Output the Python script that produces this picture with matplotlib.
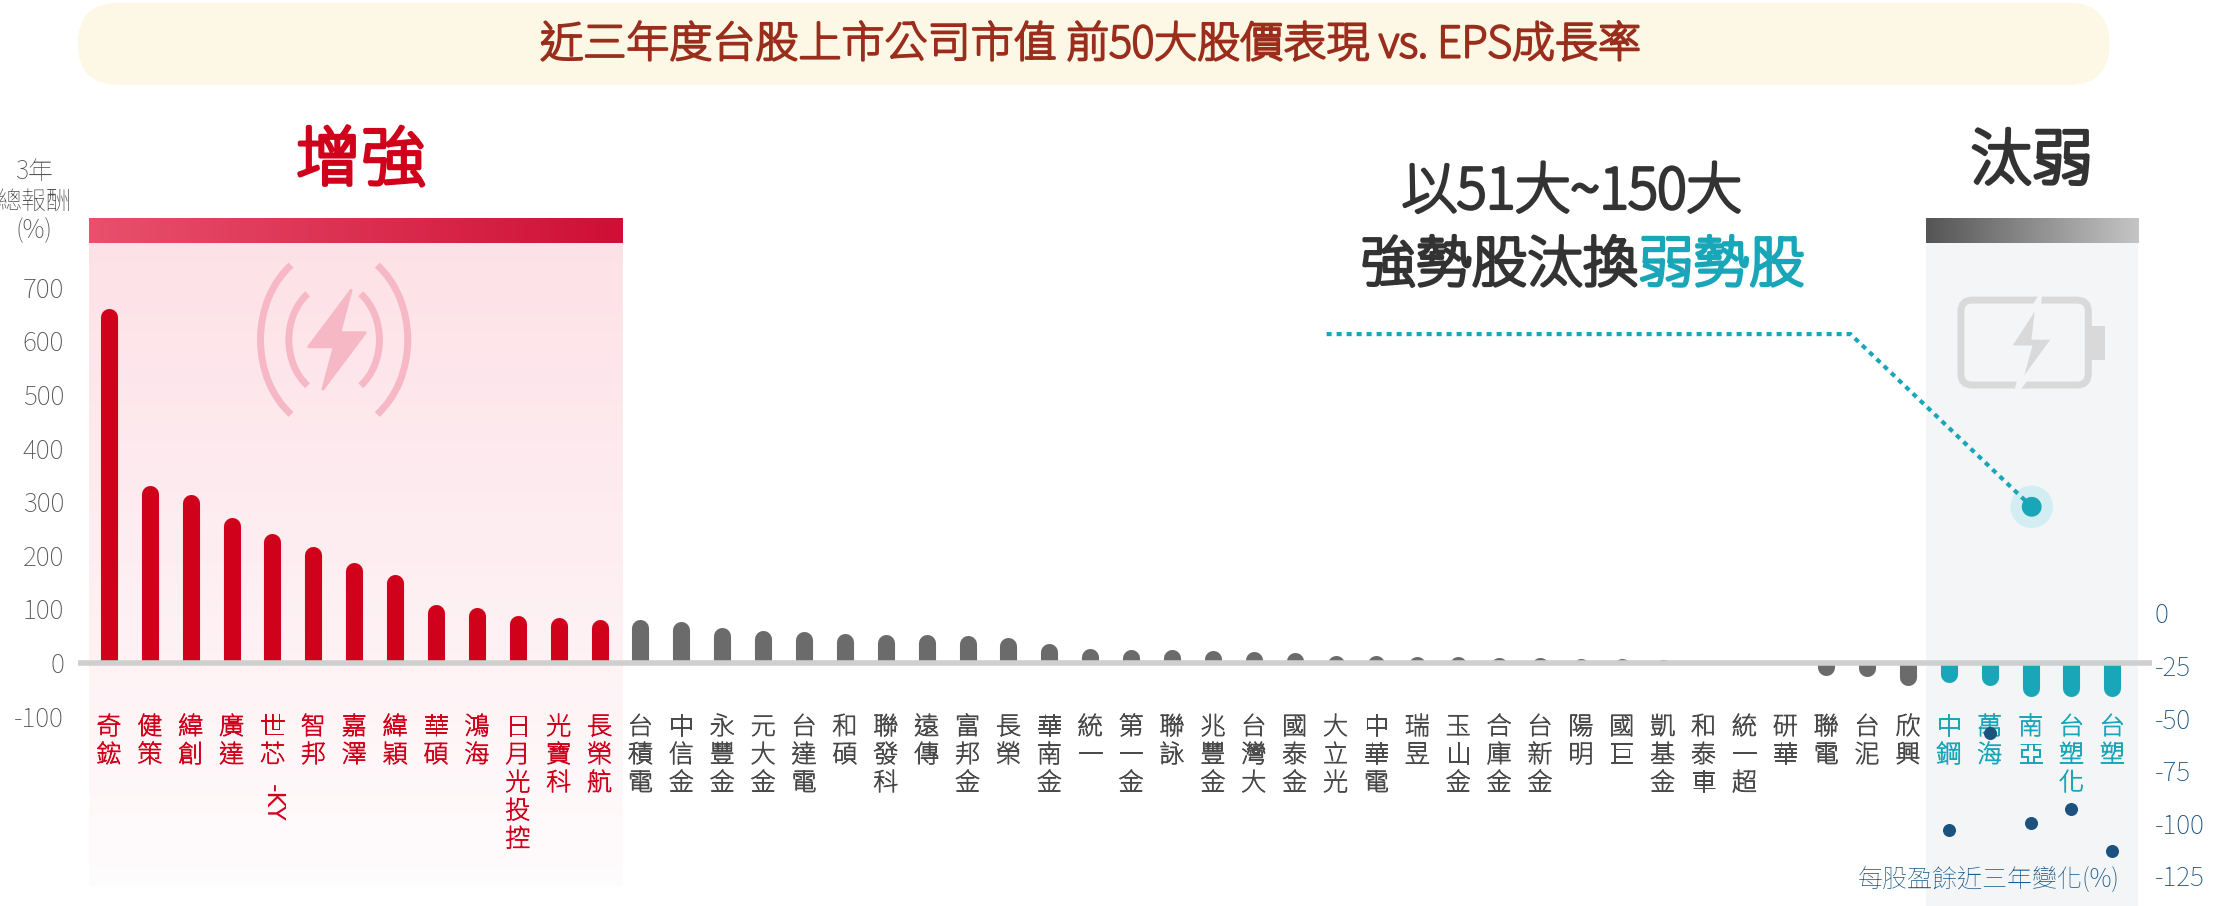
import numpy as np
import matplotlib.pyplot as plt
import matplotlib.font_manager as fm
import matplotlib.patheffects as pe
from matplotlib.colors import LinearSegmentedColormap
from matplotlib.patches import FancyBboxPatch, Rectangle, Arc, Polygon, Circle

# 找可用的中文字型
have = {f.name for f in fm.fontManager.ttflist}
cjk = [n for n in ['Noto Sans CJK TC', 'Noto Sans TC', 'Noto Sans CJK JP', 'Noto Sans CJK SC',
                   'Noto Sans SC', 'Noto Sans JP', 'Noto Serif TC'] if n in have]
plt.rcParams['font.family'] = 'sans-serif'
plt.rcParams['font.sans-serif'] = cjk + ['DejaVu Sans']
plt.rcParams['axes.unicode_minus'] = False

# 資料
names = ['奇鋐', '健策', '緯創', '廣達', '世芯-KY', '智邦', '嘉澤', '緯穎', '華碩', '鴻海',
         '日月光投控', '光寶科', '長榮航', '台積電', '中信金', '永豐金', '元大金', '台達電', '和碩', '聯發科',
         '遠傳', '富邦金', '長榮', '華南金', '統一', '第一金', '聯詠', '兆豐金', '台灣大', '國泰金',
         '大立光', '中華電', '瑞昱', '玉山金', '合庫金', '台新金', '陽明', '國巨', '凱基金', '和泰車',
         '統一超', '研華', '聯電', '台泥', '欣興', '中鋼', '萬海', '南亞', '台塑化', '台塑']
returns = [660, 331, 314, 271, 240, 217, 186, 165, 108, 103,
           87, 84, 81, 81, 76, 66, 60, 58, 54, 53,
           52, 50, 47, 36, 27, 25, 24, 22, 20, 19,
           14, 13, 12, 11, 9, 9, 8, 8, 5, 3,
           1.5, 1, -24, -26, -42, -37, -42, -63, -63, -63]
weak_names = ['中鋼', '萬海', '南亞', '台塑化', '台塑']
weak_eps = [-103, -57, -100, -93, -113]
left_ticks = [-100, 0, 100, 200, 300, 400, 500, 600, 700]
right_ticks = [0, -25, -50, -75, -100, -125]

RED, GRAY, TEAL, NAVY = '#d0021b', '#6b6b6b', '#19a6b8', '#1b527f'
W, H = 1568, 640  # 版面座標 (像素)


def bold(c, w=1.6):
    return [pe.withStroke(linewidth=w, foreground=c)]


fig = plt.figure(figsize=(22.2, 9.06), dpi=100)
bg = fig.add_axes([0, 0, 1, 1], zorder=0)
bg.set_xlim(0, W); bg.set_ylim(H, 0); bg.axis('off')

# 標題
bg.add_patch(FancyBboxPatch((55, 2), 1435, 58, boxstyle='round,pad=0,rounding_size=29',
                            fc='#fdf8e6', ec='none'))
t_c = '#9b2d1c'
bg.text(770, 32, '近三年度台股上市公司市值 前50大股價表現 vs. EPS成長率', ha='center', va='center',
        fontsize=31, fontweight='bold', color=t_c, path_effects=bold(t_c, 1.8))

# 增強區
grad = np.linspace(0.16, 0.02, 100).reshape(-1, 1)
pink = LinearSegmentedColormap.from_list('p', ['#ffffff', '#f2426a'])
bg.imshow(grad, extent=[63, 440, 625, 172], cmap=pink, vmin=0, vmax=1, aspect='auto', zorder=0)
bar_g = np.linspace(0, 1, 100).reshape(1, -1)
bg.imshow(bar_g, extent=[63, 440, 172, 155],
          cmap=LinearSegmentedColormap.from_list('r', ['#e8506c', '#cf0f35']), aspect='auto', zorder=1)
bg.text(255, 115, '增強', ha='center', va='center', fontsize=47, fontweight='bold', color=RED,
        path_effects=bold(RED, 3))
# 閃電圖示
ic = '#f5b8c4'
for r in (40, 65):
    bg.add_patch(Arc((236, 240), r * 2 * 0.8, r * 2, theta1=120, theta2=240, color=ic, lw=5))
    bg.add_patch(Arc((236, 240), r * 2 * 0.8, r * 2, theta1=-60, theta2=60, color=ic, lw=5))
bg.add_patch(Polygon([(248, 205), (218, 245), (236, 245), (228, 275), (258, 235), (240, 235)],
                     closed=True, fc=ic, ec=ic, lw=2, joinstyle='round'))

# 汰弱區
bg.add_patch(Rectangle((1360, 172), 150, 468, fc='#f4f5f6', ec='none', zorder=0))
bg.imshow(bar_g, extent=[1360, 1510, 172, 155],
          cmap=LinearSegmentedColormap.from_list('g', ['#555555', '#c4c4c4']), aspect='auto', zorder=1)
bg.text(1435, 115, '汰弱', ha='center', va='center', fontsize=44, fontweight='bold', color='#333333',
        path_effects=bold('#333333', 3))
bc = '#d9d9d9'
bg.add_patch(FancyBboxPatch((1385, 212), 90, 60, boxstyle='round,pad=0,rounding_size=8',
                            fc='none', ec=bc, lw=5))
bg.add_patch(Rectangle((1477, 230), 10, 24, fc=bc, ec='none'))
bg.add_patch(Polygon([(1440, 212), (1418, 246), (1433, 246), (1425, 275), (1452, 238), (1437, 238)],
                     closed=True, fc=bc, ec='#f4f5f6', lw=4))

# 註解
bg.text(1110, 136, '以51大~150大', ha='center', va='center', fontsize=40, fontweight='bold',
        color='#333333', path_effects=bold('#333333', 2.6))
bg.text(1157, 188, '強勢股汰換', ha='right', va='center', fontsize=40, fontweight='bold',
        color='#333333', path_effects=bold('#333333', 2.6))
bg.text(1157, 188, '弱勢股', ha='left', va='center', fontsize=40, fontweight='bold', color=TEAL,
        path_effects=bold(TEAL, 2.6))
bg.plot([937, 1307, 1435], [236, 236, 358], ls=(0, (1.2, 1.2)), lw=3, color=TEAL)
bg.add_patch(Circle((1435, 358), 15, fc='#d3eef2', ec='none'))
bg.add_patch(Circle((1435, 358), 7, fc=TEAL, ec='none'))

# 主圖
ax = fig.add_axes([55 / W, 0, (1520 - 55) / W, 1], zorder=2)
ax.patch.set_alpha(0)
base_y, top_y = 468, 203
upp = 700 / (base_y - top_y)
ax.set_ylim(-(H - base_y) * upp, base_y * upp)
ax.set_xlim(-0.76, 49.97)
for s in ax.spines.values():
    s.set_visible(False)
ax.axhline(0, color='#cfcfcf', lw=4, zorder=3)

r = 6 * upp
for i, v in enumerate(returns):
    c = RED if i < 13 else (TEAL if names[i] in weak_names else GRAY)
    sgn = 1 if v >= 0 else -1
    ln, = ax.plot([i, i], [-sgn * r, v - sgn * r], color=c, lw=12.3, solid_capstyle='round', zorder=2)
    clip = Rectangle((i - 1, 0), 2, sgn * 2000, transform=ax.transData)
    ln.set_clip_path(clip)
    lc = RED if i < 13 else (TEAL if names[i] in weak_names else '#4a4a4a')
    main = names[i].split('-')[0]
    ax.text(i, -95, '\n'.join(main), ha='center', va='top', fontsize=18, color=lc, linespacing=1.05,
            path_effects=bold(lc, 0.7))
    if '-' in names[i]:
        ax.text(i, -95 - len(main) * 62 - 8, '-KY', ha='center', va='top', fontsize=17,
                color=lc, rotation=-90, family='DejaVu Sans')

ax.set_xticks([])
ax.set_yticks(left_ticks)
ax.tick_params(axis='y', length=0, pad=10, labelsize=19, labelcolor='#555555')
bg.text(24, 142, '3年\n總報酬\n(%)', ha='center', va='center', fontsize=18, color='#555555',
        linespacing=1.1)

# EPS 成長率 (右軸)
ax2 = ax.twinx()
ax2.patch.set_alpha(0)
rupp = 125 / (621 - 435)
ax2.set_ylim(-25 - (H - 470) * rupp, -25 + 470 * rupp)
for s in ax2.spines.values():
    s.set_visible(False)
ax2.set_yticks(right_ticks)
ax2.set_yticklabels([str(t) for t in right_ticks])
ax2.tick_params(axis='y', length=0, pad=2, labelsize=19, labelcolor=NAVY)
wx = [names.index(n) for n in weak_names]
ax2.scatter(wx, weak_eps, s=70, color=NAVY, zorder=5)
bg.text(1497, 621, '每股盈餘近三年變化(%)', ha='right', va='center', fontsize=18, color='#1d5e8e')

fig.savefig('out.png', dpi=100)
